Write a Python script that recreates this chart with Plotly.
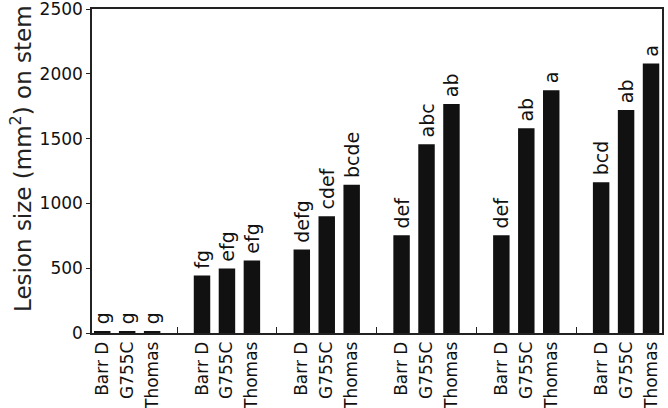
import plotly.graph_objects as go

cultivars = ["Barr D", "G755C", "Thomas"]
n_groups = 6
barr_d = [10, 444, 644, 754, 754, 1164]
g755c = [10, 498, 900, 1456, 1579, 1721]
thomas = [10, 559, 1144, 1767, 1874, 2079]
letters_barr_d = ["g", "fg", "defg", "def", "def", "bcd"]
letters_g755c = ["g", "efg", "cdef", "abc", "ab", "ab"]
letters_thomas = ["g", "efg", "bcde", "ab", "a", "a"]

series = [barr_d, g755c, thomas]
letters = [letters_barr_d, letters_g755c, letters_thomas]

FONT = "DejaVu Sans"
fig = go.Figure()
tickvals, ticktext = [], []
for j, (vals, lets) in enumerate(zip(series, letters)):
    xs = [4 * g + j for g in range(n_groups)]
    tickvals += xs
    ticktext += [cultivars[j]] * n_groups
    fig.add_trace(go.Bar(
        x=xs, y=vals, width=0.66,
        marker=dict(color="#111111", line=dict(width=0)),
        text=["\u2009" + s for s in lets], textposition="outside", textangle=-90,
        textfont=dict(family=FONT, size=19, color="#111"),
        constraintext="none", cliponaxis=False, showlegend=False,
    ))

fig.update_layout(
    width=668, height=408,
    margin=dict(l=92, r=6, t=9, b=75, autoexpand=False),
    paper_bgcolor="white", plot_bgcolor="white",
    barmode="overlay",
    font=dict(family=FONT, color="#111"),
    xaxis=dict(
        range=[-0.41, 22.44], tickvals=tickvals, ticktext=ticktext,
        tickangle=-90, tickfont=dict(family=FONT, size=17, color="#111"),
        ticks="", showgrid=False, zeroline=False, automargin=False,
        showline=True, linecolor="#222", linewidth=1.5, mirror=True,
        minor=dict(tickmode="linear", tick0=3, dtick=4, ticks="inside",
                   ticklen=6, tickwidth=1.2, tickcolor="#222", showgrid=False),
    ),
    yaxis=dict(
        range=[0, 2500], tickvals=[0, 500, 1000, 1500, 2000, 2500],
        tickfont=dict(family=FONT, size=17, color="#111"),
        ticks="outside", ticklen=4, tickcolor="#222", automargin=False,
        ticklabeloverflow="allow",
        showgrid=False, zeroline=False,
        showline=True, linecolor="#222", linewidth=1.5, mirror=True,
    ),
    annotations=[dict(
        text="Lesion size (mm<sup>2</sup>) on stem", textangle=-90,
        xref="paper", yref="paper", x=-0.1246, y=0.54,
        xanchor="center", yanchor="middle", showarrow=False,
        font=dict(family=FONT, size=23, color="#222"),
    )],
)

fig.write_html("out.html", post_script="document.body.style.margin='0';",
               config={"displayModeBar": False})
